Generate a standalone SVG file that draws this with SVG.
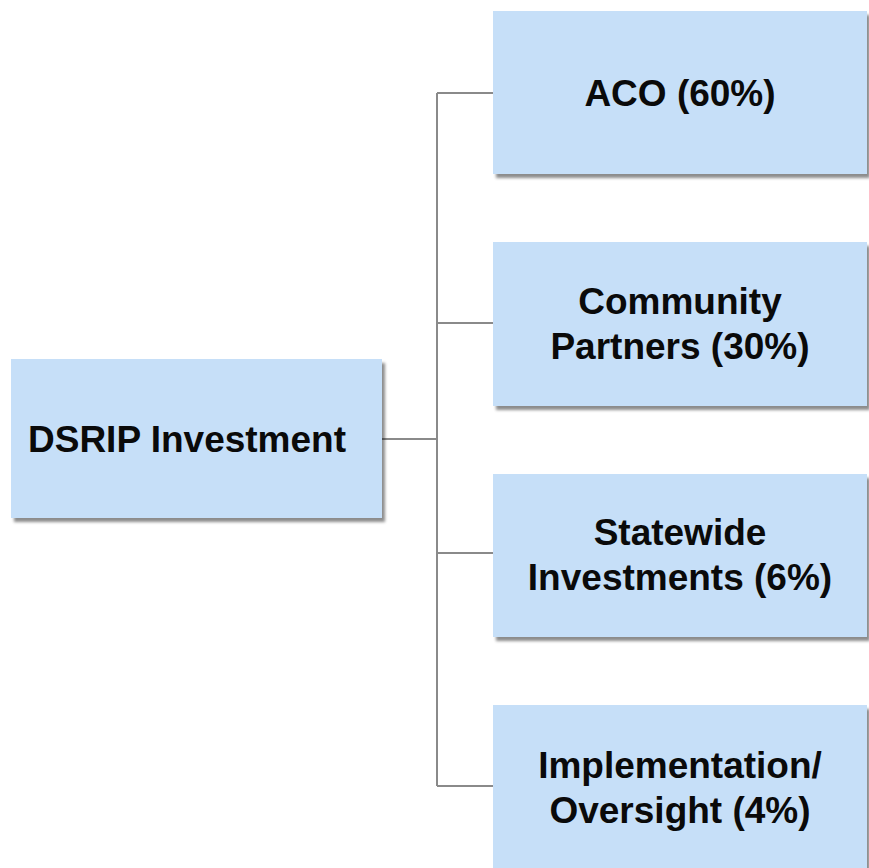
<svg xmlns="http://www.w3.org/2000/svg" width="869" height="868" viewBox="0 0 869 868">
<style>
.box{fill:#c6dff8;filter:url(#sh)}
.lbl{font-family:"Liberation Sans",Arial,sans-serif;font-weight:bold;font-size:37px;fill:#0a0a0a;text-anchor:middle}
.con{fill:none;stroke:#8a8a8a;stroke-width:2}
</style>
<defs>
<filter id="sh" x="-5%" y="-5%" width="112%" height="115%">
<feDropShadow dx="3" dy="4" stdDeviation="1.8" flood-color="#000" flood-opacity="0.45"/>
</filter>
</defs>
<rect width="869" height="868" fill="#fff"/>
<g id="connectors">
<path class="con" d="M382 439H437M437 93V786M437 93H493M437 323H493M437 553H493M437 786H493"/>
</g>
<g id="dsrip">
<rect class="box" x="11" y="359" width="371" height="159"/>
<text class="lbl" x="187" y="452">DSRIP Investment</text>
</g>
<g id="aco">
<rect class="box" x="493" y="11" width="374" height="163"/>
<text class="lbl" x="680" y="106">ACO (60%)</text>
</g>
<g id="community">
<rect class="box" x="493" y="242" width="374" height="164"/>
<text class="lbl" x="680" y="314">Community</text>
<text class="lbl" x="680" y="359">Partners (30%)</text>
</g>
<g id="statewide">
<rect class="box" x="493" y="474" width="374" height="163"/>
<text class="lbl" x="680" y="545">Statewide</text>
<text class="lbl" x="680" y="590">Investments (6%)</text>
</g>
<g id="implementation">
<rect class="box" x="493" y="705" width="374" height="175"/>
<text class="lbl" x="680" y="778">Implementation/</text>
<text class="lbl" x="680" y="823">Oversight (4%)</text>
</g>
</svg>
